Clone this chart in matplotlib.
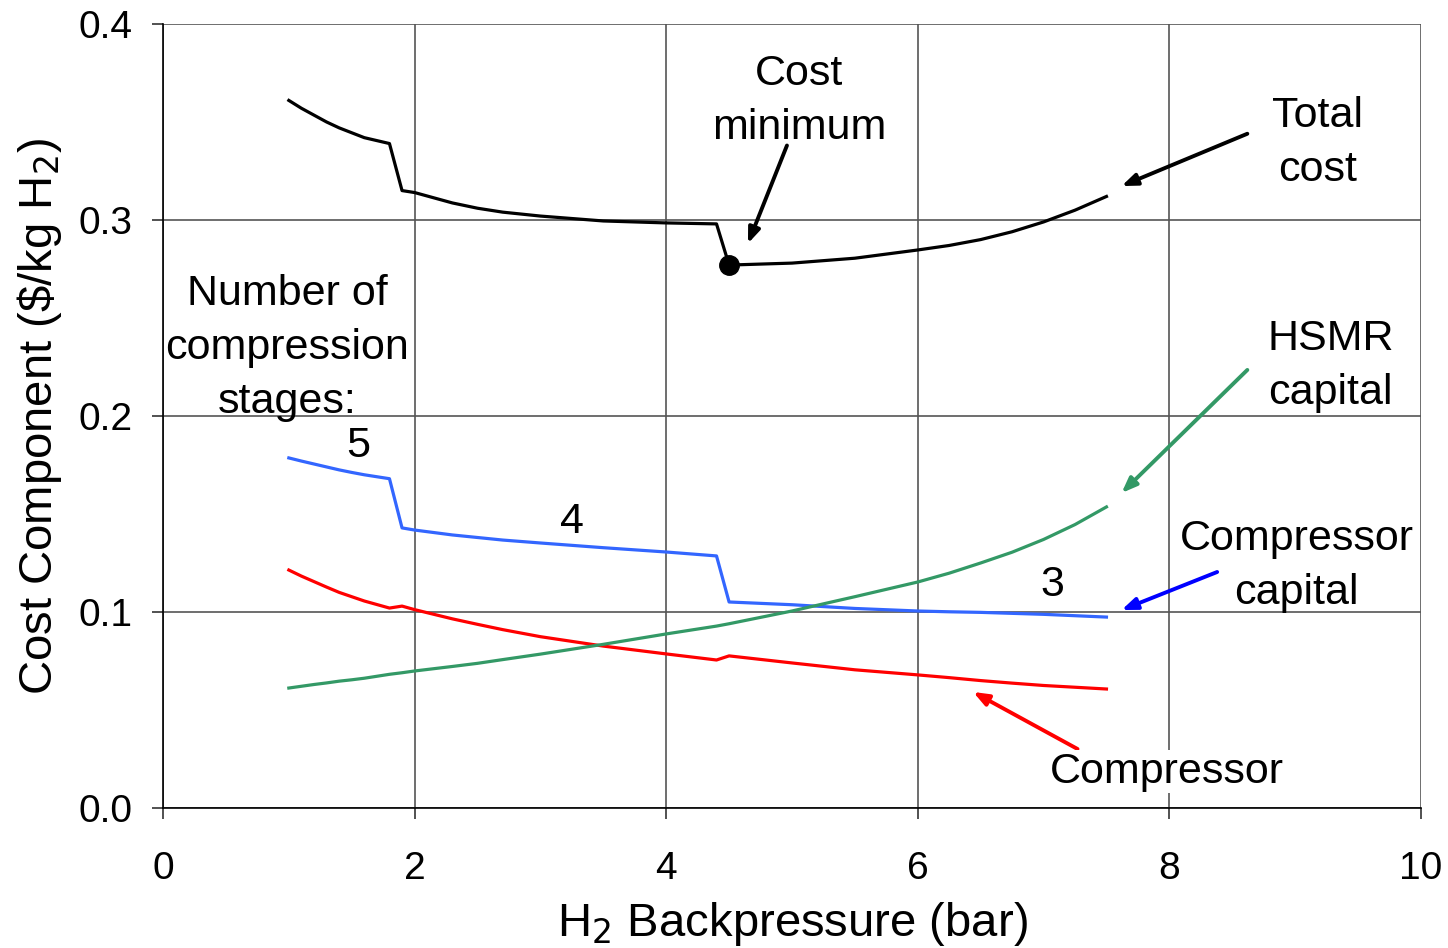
import matplotlib
matplotlib.use("Agg")
import matplotlib.pyplot as plt

plt.rcParams['font.family'] = ['Liberation Sans', 'DejaVu Sans']

# H2 backpressure (bar)
pressure = [1.0, 1.1, 1.2, 1.3, 1.4, 1.5, 1.6, 1.7, 1.8, 1.9, 2.0, 2.3, 2.5, 2.7, 3.0,
            3.5, 4.0, 4.4, 4.5, 5.0, 5.5, 6.0, 6.25, 6.5, 6.75, 7.0, 7.25, 7.5]
total_cost = [0.361, 0.357, 0.3535, 0.350, 0.347, 0.3445, 0.342, 0.3405, 0.339, 0.315,
              0.314, 0.3087, 0.306, 0.304, 0.302, 0.2995, 0.2985, 0.298, 0.277, 0.278,
              0.2805, 0.2847, 0.287, 0.290, 0.294, 0.299, 0.305, 0.312]
compressor_capital = [0.1786, 0.1770, 0.1755, 0.1740, 0.1725, 0.1712, 0.170, 0.169, 0.168,
                      0.1429, 0.1418, 0.1393, 0.1380, 0.1367, 0.1352, 0.1328, 0.1306,
                      0.1286, 0.1051, 0.1037, 0.1018, 0.1005, 0.1001, 0.0998, 0.0993,
                      0.0988, 0.0981, 0.0974]
compressor = [0.1214, 0.1183, 0.1155, 0.1127, 0.1100, 0.1078, 0.1056, 0.1038, 0.1020,
              0.1030, 0.1012, 0.0965, 0.0937, 0.0910, 0.0874, 0.0826, 0.0786, 0.0755,
              0.0776, 0.0740, 0.0705, 0.0679, 0.0665, 0.0650, 0.0637, 0.0625, 0.0616,
              0.0607]
hsmr_capital = [0.0612, 0.0621, 0.0630, 0.0638, 0.0647, 0.0654, 0.0662, 0.0672, 0.0682,
                0.0690, 0.0699, 0.0722, 0.0738, 0.0757, 0.0785, 0.0835, 0.0888, 0.0928,
                0.0940, 0.1005, 0.1078, 0.1153, 0.1198, 0.1250, 0.1305, 0.1370, 0.1446,
                0.1536]
min_point = (4.5, 0.277)

x_ticks = [0, 2, 4, 6, 8, 10]
y_ticks = [0.0, 0.1, 0.2, 0.3, 0.4]

fig = plt.figure(figsize=(14.48, 9.48), dpi=100)
ax = fig.add_axes([0.1126, 0.1477, 0.8687, 0.827])

ax.set_xlim(0, 10)
ax.set_ylim(0, 0.4)
ax.set_xticks(x_ticks)
ax.set_yticks(y_ticks)
ax.set_xticklabels([str(t) for t in x_ticks])
ax.set_yticklabels([f"{t:.1f}" for t in y_ticks])
ax.tick_params(labelsize=28, direction='out', length=8, width=1.2, color='#333333')
ax.tick_params(axis='y', pad=14)
ax.tick_params(axis='x', pad=23)
ax.grid(True, color='#555555', linewidth=1.2)
ax.set_axisbelow(True)
for s in ['top', 'right']:
    ax.spines[s].set_visible(False)
for s in ['left', 'bottom']:
    ax.spines[s].set_color('black')
    ax.spines[s].set_linewidth(1.2)

ax.set_xlabel('H$_2$ Backpressure (bar)', fontsize=34, labelpad=9)
ax.set_ylabel('Cost Component (\\$/kg H$_2$)', fontsize=34, labelpad=10)

lw = 2.3
ax.plot(pressure, total_cost, color='black', lw=lw, zorder=3)
ax.plot(pressure, compressor_capital, color='#3366ff', lw=lw, zorder=3)
ax.plot(pressure, compressor, color='#ff0000', lw=lw, zorder=3)
ax.plot(pressure, hsmr_capital, color='#339966', lw=lw, zorder=3)
ax.plot([min_point[0]], [min_point[1]], 'o', color='black', markersize=14, zorder=4)

fs = 31
ls = 1.45
def arrow(xy, xytext, color):
    ax.annotate('', xy=xy, xytext=xytext,
                arrowprops=dict(arrowstyle='-|>,head_length=0.9,head_width=0.35',
                                color=color, lw=2.8, shrinkA=0, shrinkB=0),
                zorder=5)

ax.text(5.06, 0.3605, 'Cost\nminimum', fontsize=fs, ha='center', va='center', linespacing=ls)
arrow((4.65, 0.288), (4.96, 0.338), 'black')

ax.text(9.18, 0.3395, 'Total\ncost', fontsize=fs, ha='center', va='center', linespacing=ls)
arrow((7.62, 0.3173), (8.62, 0.344), 'black')

ax.text(9.28, 0.2255, 'HSMR\ncapital', fontsize=fs, ha='center', va='center', linespacing=ls)
arrow((7.62, 0.1607), (8.62, 0.2235), '#339966')

ax.text(9.01, 0.1235, 'Compressor\ncapital', fontsize=fs, ha='center', va='center', linespacing=ls)
arrow((7.62, 0.101), (8.38, 0.1204), '#0000ff')

ax.text(7.98, 0.0185, 'Compressor', fontsize=fs, ha='center', va='center',
        bbox=dict(facecolor='white', edgecolor='none', pad=1), zorder=6)
arrow((6.44, 0.0592), (7.27, 0.0301), '#ff0000')

ax.text(0.986, 0.2345, 'Number of\ncompression\nstages:', fontsize=fs, ha='center', va='center',
        linespacing=ls)
ax.text(1.55, 0.1847, '5', fontsize=fs, ha='center', va='center')
ax.text(3.25, 0.1459, '4', fontsize=fs, ha='center', va='center')
ax.text(7.07, 0.1138, '3', fontsize=fs, ha='center', va='center')

fig.savefig('out.png', dpi=100)
